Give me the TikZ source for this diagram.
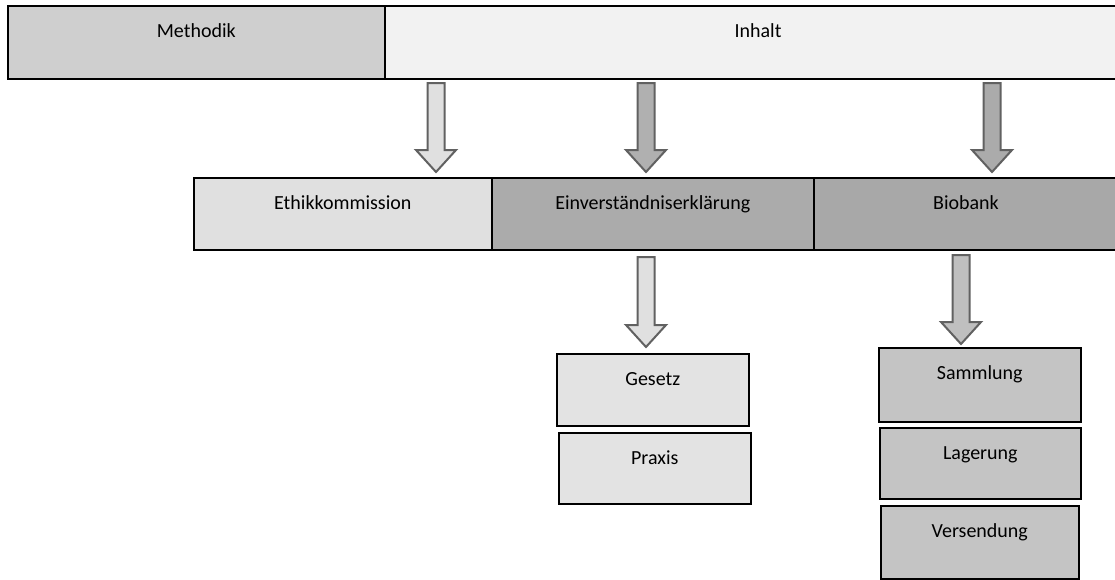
\documentclass[tikz,border=0pt]{standalone}
\usepackage{fontspec}
\setmainfont{Carlito}
\begin{document}
\begin{tikzpicture}[x=1pt,y=-1pt,
  box/.style={draw=black, line width=1.6pt, inner sep=0pt, anchor=north west},
  lbl/.style={anchor=base, inner sep=0pt, font=\fontsize{20}{24}\selectfont},
  barrow/.style={draw=black!62, line width=2pt, line join=miter}]
\useasboundingbox (0,0) rectangle (1115,579);
\newcommand{\blockarr}[4]{%
  \pgfmathsetmacro\hs{#3-22}%
  \draw[barrow, fill=#4] (#1-8.5,#2) -- (#1+8.5,#2) -- (#1+8.5,\hs) -- (#1+20,\hs) -- (#1,#3) -- (#1-20,\hs) -- (#1-8.5,\hs) -- cycle;}
\newcommand{\boxnode}[7]{% name, x1, y1, x2, y2, fill, text
  \node[box, fill=#6, minimum width=#4-#2, minimum height=#5-#3] (#1) at (#2,#3) {};
  \node[lbl] (#1t) at ($(#1.north)+(0,32)$) {#7};}
\usetikzlibrary{calc}
% top bar
\boxnode{meth}{7}{5}{384}{78}{black!19}{Methodik}
\boxnode{inh}{384}{5}{1120}{78}{black!5}{}
\node[lbl] (inht) at (758,37) {Inhalt};
% second bar
\boxnode{eth}{193}{177}{491}{249}{black!12}{Ethikkommission}
\boxnode{einv}{491}{177}{813}{249}{black!33}{Einverständniserklärung}
\boxnode{bio}{813}{177}{1120}{249}{black!34}{}
\node[lbl] (biot) at (966,209) {Biobank};
% lower boxes
\boxnode{ges}{556}{353}{748}{425}{black!11}{Gesetz}
\boxnode{prax}{558}{432}{750}{503}{black!11}{Praxis}
\boxnode{samm}{878}{347}{1080}{421}{black!23}{Sammlung}
\boxnode{lag}{879}{427}{1080}{498}{black!23}{Lagerung}
\boxnode{vers}{880}{505}{1078}{578}{black!23}{Versendung}
% arrows
\blockarr{436}{83}{172}{black!12}
\blockarr{646}{83}{172}{black!31}
\blockarr{992}{83}{172}{black!33}
\blockarr{646}{257}{347}{black!12}
\blockarr{961}{255}{344}{black!25}
\end{tikzpicture}
\end{document}
